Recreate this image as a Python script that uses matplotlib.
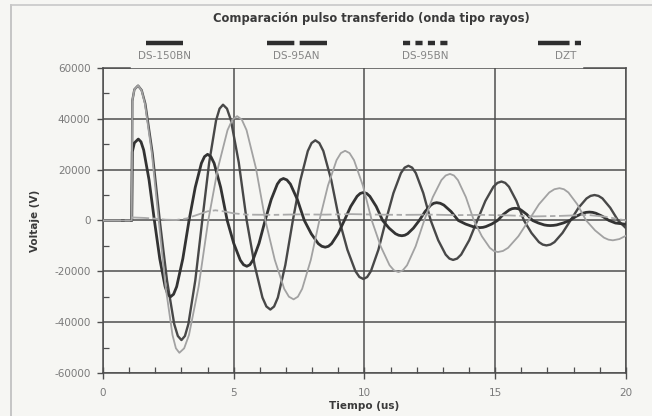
import matplotlib
matplotlib.use("Agg")
import matplotlib.pyplot as plt
from matplotlib.lines import Line2D

# ---------------- data ----------------
series_names = ["DS-150BN", "DS-95AN", "DS-95BN", "DZT"]

t_150bn = [0, 1.10, 1.12, 1.20, 1.34,
           1.478, 1.617, 1.893, 2.17, 2.447, 2.723, 2.862, 3.00,
           3.133, 3.265, 3.53, 3.795, 4.06, 4.325, 4.458, 4.59,
           4.741, 4.892, 5.193, 5.495, 5.797, 6.098, 6.249, 6.40,
           6.543, 6.687, 6.973, 7.26, 7.547, 7.833, 7.977, 8.12,
           8.273, 8.427, 8.733, 9.04, 9.347, 9.653, 9.807, 9.96,
           10.103, 10.247, 10.533, 10.82, 11.107, 11.393, 11.537, 11.68,
           11.823, 11.965, 12.25, 12.535, 12.82, 13.105, 13.248, 13.39,
           13.544, 13.698, 14.007, 14.315, 14.623, 14.932, 15.086, 15.24,
           15.383, 15.527, 15.813, 16.10, 16.387, 16.673, 16.817, 16.96,
           17.113, 17.267, 17.573, 17.88, 18.187, 18.493, 18.647, 18.80,
           18.95, 19.10, 19.40, 19.70, 20.0]
v_150bn = [0, 0, 47000, 51500, 53000,
           51200, 45900, 26500, 0, -23500, -40700, -45400, -47000,
           -45400, -40700, -23500, 0, 22750, 39400, 43950, 45500,
           43950, 39400, 22750, 0, -17500, -30300, -33800, -35000,
           -33800, -30300, -17500, 0, 15750, 27300, 30430, 31500,
           30430, 27300, 15750, 0, -11500, -19900, -22220, -23000,
           -22220, -19900, -11500, 0, 10750, 18600, 20770, 21500,
           20770, 18600, 10750, 0, -7750, -13400, -14970, -15500,
           -14970, -13400, -7750, 0, 7650, 13250, 14780, 15300,
           14780, 13250, 7650, 0, -4900, -8500, -9470, -9800,
           -9470, -8500, -4900, 0, 5000, 8650, 9660, 10000,
           9660, 8700, 5000, 0, -3000]

t_95an = [0, 1.10, 1.12, 1.20, 1.35,
          1.453, 1.555, 1.76, 1.965, 2.17, 2.375, 2.478, 2.58,
          2.698, 2.817, 3.053, 3.29, 3.527, 3.763, 3.882, 4.00,
          4.125, 4.25, 4.50, 4.75, 5.00, 5.25, 5.375, 5.50,
          5.617, 5.733, 5.967, 6.20, 6.433, 6.667, 6.783, 6.90,
          7.033, 7.167, 7.433, 7.70, 7.967, 8.233, 8.367, 8.50,
          8.622, 8.743, 8.987, 9.23, 9.473, 9.717, 9.838, 9.96,
          10.083, 10.205, 10.45, 10.695, 10.94, 11.185, 11.308, 11.43,
          11.541, 11.652, 11.873, 12.095, 12.317, 12.538, 12.649, 12.76,
          12.898, 13.037, 13.313, 13.59, 13.867, 14.143, 14.282, 14.42,
          14.532, 14.643, 14.867, 15.09, 15.313, 15.537, 15.648, 15.76,
          15.872, 15.983, 16.207, 16.43, 16.653, 16.877, 16.988, 17.10,
          17.225, 17.35, 17.60, 17.85, 18.10, 18.35, 18.475, 18.60,
          18.725, 18.85, 19.10, 19.35, 19.60, 20.0]
v_95an = [0, 0, 27000, 30500, 32000,
          30900, 27700, 16000, 0, -15000, -26000, -29000, -30000,
          -29000, -26000, -15000, 0, 13000, 22500, 25100, 26000,
          25100, 22500, 13000, 0, -9000, -15600, -17400, -18000,
          -17400, -15600, -9000, 0, 8250, 14300, 15940, 16500,
          15940, 14300, 8250, 0, -5250, -9100, -10140, -10500,
          -10140, -9100, -5250, 0, 5500, 9500, 10630, 11000,
          10630, 9500, 5500, 0, -3000, -5200, -5800, -6000,
          -5800, -5200, -3000, 0, 3500, 6050, 6760, 7000,
          6760, 6050, 3500, 0, -1400, -2400, -2700, -2800,
          -2700, -2400, -1400, 0, 2400, 4150, 4640, 4800,
          4640, 4150, 2400, 0, -1000, -1750, -1930, -2000,
          -1930, -1750, -1000, 0, 1650, 2850, 3190, 3300,
          3190, 2850, 1650, 0, -1000, -1500]

t_95bn = [0, 1.10, 1.12, 1.20, 1.34,
          1.472, 1.603, 1.867, 2.13, 2.393, 2.657, 2.788, 2.92,
          3.104, 3.288, 3.657, 4.025, 4.393, 4.762, 4.946, 5.13,
          5.31, 5.49, 5.85, 6.21, 6.57, 6.93, 7.11, 7.29,
          7.454, 7.618, 7.947, 8.275, 8.603, 8.932, 9.096, 9.26,
          9.43, 9.60, 9.94, 10.28, 10.62, 10.96, 11.13, 11.30,
          11.464, 11.628, 11.957, 12.285, 12.613, 12.942, 13.106, 13.27,
          13.423, 13.575, 13.88, 14.185, 14.49, 14.795, 14.948, 15.10,
          15.297, 15.493, 15.887, 16.28, 16.673, 17.067, 17.263, 17.46,
          17.63, 17.80, 18.14, 18.48, 18.82, 19.16, 19.33, 19.50,
          19.75, 20.0]
v_95bn = [0, 0, 47000, 51500, 53000,
          51200, 45900, 26500, 0, -26000, -45000, -50230, -52000,
          -50230, -45000, -26000, 0, 20500, 35500, 39610, 41000,
          39610, 35500, 20500, 0, -15500, -26850, -29950, -31000,
          -29950, -26850, -15500, 0, 13700, 23700, 26470, 27400,
          26470, 23700, 13700, 0, -10150, -17600, -19610, -20300,
          -19610, -17600, -10150, 0, 9150, 15850, 17680, 18300,
          17680, 15850, 9150, 0, -6200, -10750, -11980, -12400,
          -11980, -10750, -6200, 0, 6350, 11000, 12270, 12700,
          12270, 11000, 6350, 0, -3900, -6750, -7530, -7800,
          -7300, -6000]

t_dzt = [0, 1.10, 1.12, 1.6, 2.0, 2.4, 2.8, 3.2, 3.6, 4.0, 4.3, 4.6, 5.0,
         5.5, 6.5, 7.5, 8.5, 9.5, 10.5, 11.5, 12.5, 13.5, 14.5, 15.5,
         16.5, 17.5, 18.5, 19.2, 20.0]
v_dzt = [0, 0, 1200, 1000, 700, 300, 200, 800, 2200, 3600, 4000, 3600, 2800,
         2300, 2200, 2400, 2300, 2500, 2300, 2200, 2300, 2100, 2200, 2000,
         1600, 1800, 2200, 1500, 0]

x_ticks = [0, 5, 10, 15, 20]
x_ticklabels = ["0", "5", "10", "15", "20"]
y_ticks = [-60000, -40000, -20000, 0, 20000, 40000, 60000]
y_ticklabels = ["-60000", "-40000", "-20000", "0", "20000", "40000", "60000"]

title = "Comparación pulso transferido (onda tipo rayos)"
xlabel = "Tiempo (us)"
ylabel = "Voltaje (V)"

# ---------------- figure ----------------
bg = "#f6f6f3"
fig = plt.figure(figsize=(6.52, 4.16), dpi=100, facecolor=bg)
ax = fig.add_axes([0.158, 0.103, 0.802, 0.734], facecolor=bg)

styles = [
    dict(color="#484848", lw=1.7, dashes=()),             # DS-150BN
    dict(color="#333333", lw=2.0, dashes=()),             # DS-95AN
    dict(color="#a2a2a2", lw=1.3, dashes=()),             # DS-95BN
    dict(color="#aaaaaa", lw=1.3, dashes=(10, 2, 3, 2)),  # DZT
]
data = [(t_150bn, v_150bn), (t_95an, v_95an), (t_95bn, v_95bn), (t_dzt, v_dzt)]
order = [3, 2, 0, 1]
for i in order:
    t, v = data[i]
    st = styles[i]
    line, = ax.plot(t, v, color=st["color"], lw=st["lw"], zorder=3 + i * 0.1,
                    solid_joinstyle="round", dash_joinstyle="round")
    if st["dashes"]:
        line.set_dashes(st["dashes"])

ax.set_xlim(0, 20)
ax.set_ylim(-60000, 60000)

ax.set_xticks(x_ticks)
ax.set_xticklabels(x_ticklabels)
ax.set_yticks(y_ticks)
ax.set_yticklabels(y_ticklabels)
ax.set_xticks(range(0, 21), minor=True)
ax.set_yticks(range(-60000, 60001, 10000), minor=True)

grid_c = "#4e4e4e"
ax.grid(True, which="major", color=grid_c, lw=1.1, zorder=1)
ax.set_axisbelow(True)

lab_c = "#7a7a7a"
ax.tick_params(axis="both", which="major", colors=grid_c, labelcolor=lab_c,
               labelsize=7.5, width=1.0)
ax.tick_params(axis="x", which="major", direction="inout", length=9, pad=6)
ax.tick_params(axis="y", which="major", direction="out", length=4, pad=5)
ax.tick_params(axis="both", which="minor", direction="in", length=4,
               width=0.9, colors=grid_c)

for side in ["left", "bottom", "right"]:
    ax.spines[side].set_color(grid_c)
    ax.spines[side].set_linewidth(1.1)
ax.spines["top"].set_visible(False)
# partial top edge as in the scan
ax.plot([0, 1.05], [60000, 60000], color=grid_c, lw=1.1, clip_on=False, zorder=2)
ax.plot([18.4, 20], [60000, 60000], color=grid_c, lw=1.1, clip_on=False, zorder=2)

ax.set_xlabel(xlabel, fontsize=7.5, fontweight="bold", color="#3a3a3a", labelpad=2)
ax.set_ylabel(ylabel, fontsize=7.5, fontweight="bold", color="#3a3a3a", labelpad=10)

# title
fig.text(0.569, 0.955, title, ha="center", va="center", fontsize=8.3,
         fontweight="bold", color="#3a3a3a")

# legend: handle above label
leg_centers = [0.252, 0.455, 0.652, 0.858]
leg_handle_w = [0.057, 0.092, 0.069, 0.067]
leg_dashes = [(), (6.15, 1.2), (1.6, 1.2), (7.1, 1.2, 1.6, 1.2)]
for name, cx, w, dsh in zip(series_names, leg_centers, leg_handle_w, leg_dashes):
    ln = Line2D([cx - w / 2, cx + w / 2], [0.896, 0.896], transform=fig.transFigure,
                color="#2e2e2e", lw=3.2, solid_capstyle="butt", dash_capstyle="butt")
    if dsh:
        ln.set_dashes(dsh)
    fig.add_artist(ln)
    fig.text(cx + (0.01 if name == "DZT" else 0), 0.866, name, ha="center",
             va="center", fontsize=7.5, color="#858585")

# outer scan frame
fig.add_artist(Line2D([0.017, 0.017], [0.0, 0.988], transform=fig.transFigure,
                      color="#bdbdbd", lw=1.2))
fig.add_artist(Line2D([0.017, 1.0], [0.988, 0.988], transform=fig.transFigure,
                      color="#c8c8c8", lw=1.2))

fig.savefig("out.png", dpi=100, facecolor=bg)
